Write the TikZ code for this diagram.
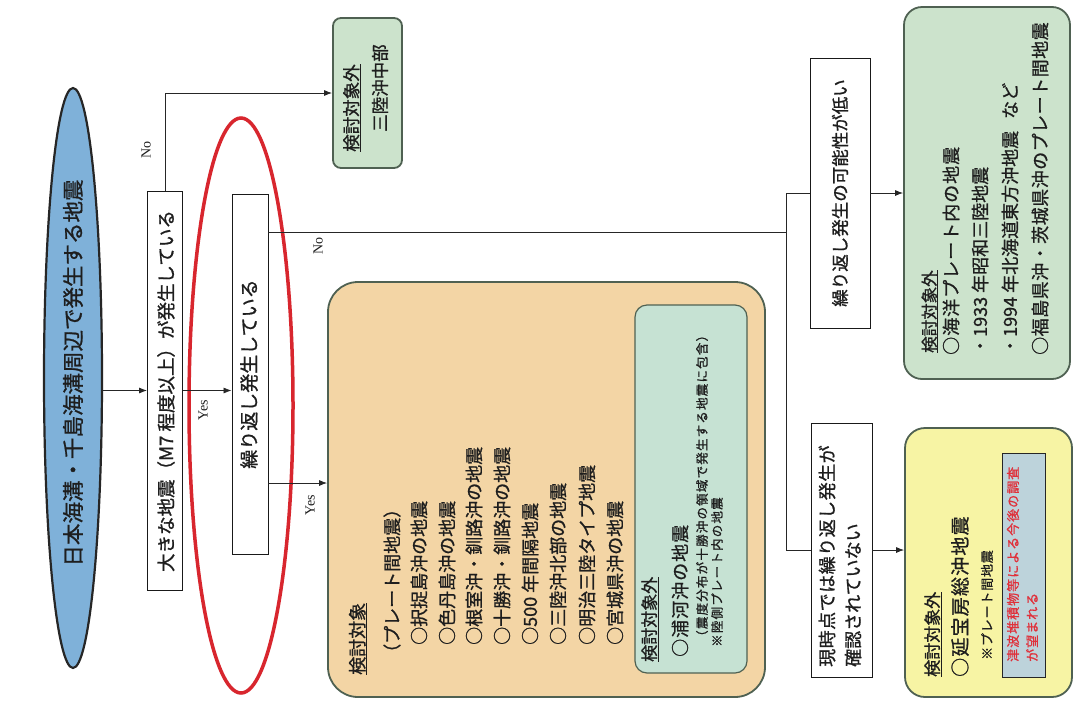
\documentclass[tikz,border=0pt]{standalone}
\usepackage{fontspec}
\setmainfont{Liberation Serif}
\newfontfamily\jp[FakeBold=1]{Noto Sans CJK JP}
\usetikzlibrary{arrows.meta,calc,shapes.geometric}
\definecolor{blueE}{HTML}{7FB1D9}
\definecolor{orangeF}{HTML}{F3D5A5}
\definecolor{greenF}{HTML}{CCE3CC}
\definecolor{mintF}{HTML}{C6E2D3}
\definecolor{yellowF}{HTML}{F7F4A4}
\definecolor{grayblue}{HTML}{BDD3DB}
\definecolor{edgeC}{HTML}{4F6152}
\definecolor{redE}{HTML}{D8262E}
\definecolor{txt}{HTML}{1E1E1E}
\definecolor{redtxt}{HTML}{E0303A}
\newcommand\jf[1]{\jp\fontsize{#1}{#1}\selectfont}
\makeatletter
\newcommand\spc[2]{\@tfor\sp@ch:=#2\do{\sp@ch\kern#1pt\relax}\unkern}
\makeatother
\newcommand\ulx[1]{\setbox0\hbox{#1}\rlap{\rule[-3pt]{\wd0}{1.1pt}}\box0}
\tikzset{
  jt/.style={rotate=90, anchor=west, inner sep=0pt, text=txt},
  jc/.style={rotate=90, anchor=center, inner sep=0pt, text=txt},
  lab/.style={rotate=90, inner sep=0pt, font=\fontsize{14}{14}\selectfont, text=txt},
  plainbox/.style={draw=black!90, line width=0.9pt, fill=white, inner sep=0pt},
  roundbox/.style={draw=edgeC, line width=1.8pt, inner sep=0pt},
  arr/.style={-{Latex[length=8pt,width=6pt]}, line width=0.8pt, draw=black!85},
  conn/.style={line width=0.8pt, draw=black!85},
}
\begin{document}
\begin{tikzpicture}[x=1pt,y=-1pt]
\useasboundingbox (0,0) rectangle (1078,702);
\fill[white] (0,0) rectangle (1078,702);

% shapes
\node[ellipse, draw=black!85, line width=2.2pt, fill=blueE, minimum width=58, minimum height=580, inner sep=0pt] (e0) at (73,378) {};
\node[plainbox, minimum width=35, minimum height=399] (b1) at (165,390.5) {};
\node[roundbox, fill=greenF, rounded corners=8pt, minimum width=69, minimum height=150] (g1) at (367.5,93) {};
\node[plainbox, minimum width=36, minimum height=360] (b2) at (250,374) {};
\node[ellipse, draw=redE, line width=3.5pt, minimum width=104, minimum height=575, inner sep=0pt] (r0) at (241,405.5) {};
\node[roundbox, fill=orangeF, rounded corners=30pt, minimum width=437, minimum height=415] (ob) at (546.5,489.5) {};
\node[roundbox, line width=1.2pt, fill=mintF, rounded corners=12pt, minimum width=112, minimum height=368] (ig) at (691,489) {};
\node[plainbox, minimum width=60, minimum height=270] (b3) at (840,193) {};
\node[plainbox, minimum width=61, minimum height=254] (b4) at (841.5,550) {};
\node[roundbox, fill=greenF, rounded corners=18pt, minimum width=166, minimum height=372] (g3) at (987,193) {};
\node[roundbox, fill=yellowF, rounded corners=20pt, minimum width=167, minimum height=269] (y4) at (988.5,562.5) {};
\node[draw=black!85, line width=1pt, fill=grayblue, inner sep=0pt, minimum width=43, minimum height=224] (yb) at (1023.5,565) {};

% connectors
\draw[arr] (e0.east |- b1.west) -- (b1.west);
\draw[arr] (b1.east) -- (b1.east -| b2.west);
\draw[arr] (b1.north) |- (g1.west);
\coordinate (n2) at ($(b2.north east)+(0,39)$);
\coordinate (j) at (786,193);
\coordinate (jb) at (786,550);
\draw[conn] (n2) -- (n2 -| j);
\draw[conn] (j) -- (jb);
\draw[conn] (j) -- (b3.west);
\draw[arr] (b3.east) -- (g3.west);
\draw[conn] (jb) -- (b4.west);
\draw[arr] (b4.east) -- (b4.east -| y4.west);
\coordinate (y2) at ($(b2.east)+(0,109)$);
\draw[arr] (y2) -- (y2 -| ob.west);

% labels
\node[lab] (lno1) at (146,150) {No};
\node[lab] (lyes1) at (203,410) {Yes};
\node[lab] (lno2) at (318,246) {No};
\node[lab] (lyes2) at (310,505) {Yes};

% texts
\node[jc, font=\jf{21.5}] (t0) at (73,373) {日本海溝・千島海溝周辺で発生する地震};
\node[jc, font=\jf{18.5}] (t1) at (166,391) {大きな地震（M7 程度以上）が発生している};
\node[jc, font=\jf{19}] (t2) at (249,374) {繰り返し発生している};

\node[jt, font=\jf{17.5}] (tg1a) at (352,152) {\ulx{検討対象外}};
\node[jt, font=\jf{17.5}] (tg1b) at (380,132) {三陸沖中部};

\node[jt, font=\jf{18}] (o0) at (358,675) {\ulx{検討対象}};
\node[jt, font=\jf{18}] (o1) at (392,662) {（プレート間地震）};
\node[jt, font=\jf{18}] (o2) at (419,645) {○択捉島沖の地震};
\node[jt, font=\jf{18}] (o3) at (447,645) {○色丹島沖の地震};
\node[jt, font=\jf{18}] (o4) at (474,645) {○根室沖・釧路沖の地震};
\node[jt, font=\jf{18}] (o5) at (502,645) {○十勝沖・釧路沖の地震};
\node[jt, font=\jf{18}] (o6) at (530,645) {○500 年間隔地震};
\node[jt, font=\jf{18}] (o7) at (558,645) {○三陸沖北部の地震};
\node[jt, font=\jf{18}] (o8) at (587,645) {○明治三陸タイプ地震};
\node[jt, font=\jf{18}] (o9) at (615,645) {○宮城県沖の地震};

\node[jt, font=\jf{17}] (i0) at (650,662) {\ulx{検討対象外}};
\node[jt, font=\jf{18}] (i1) at (680,657) {\spc{1}{○浦河沖の地震}};
\node[jt, font=\jf{12.5}] (i2) at (702,643) {\spc{1.2}{（震度分布が十勝沖の領域で発生する地震に包含）}};
\node[jt, font=\jf{12.5}] (i3) at (717,647) {\spc{1.2}{※陸側プレート内の地震}};

\node[jc, font=\jf{17.5}] (t3) at (840,193) {繰り返し発生の可能性が低い};
\node[jt, font=\jf{18}] (t4a) at (827,667) {\spc{0.5}{現時点では繰り返し発生が}};
\node[jt, font=\jf{18}] (t4b) at (853,667) {確認されていない};

\node[jt, font=\jf{16.5}] (r1) at (930,353) {\ulx{検討対象外}};
\node[jt, font=\jf{18}] (r2) at (951,355) {\spc{1}{○海洋プレート内の地震}};
\node[jt, font=\jf{18}] (r3) at (980,355) {・1933 年昭和三陸地震};
\node[jt, font=\jf{18}] (r4) at (1010,355) {・1994 年北海道東方沖地震\hspace{12pt}など};
\node[jt, font=\jf{18}] (r5) at (1040,355) {\spc{0.5}{○福島県沖・茨城県沖のプレート間地震}};

\node[jt, font=\jf{17}] (y0) at (933,677) {\ulx{検討対象外}};
\node[jt, font=\jf{19}] (y1) at (960,677) {\spc{1.2}{○延宝房総沖地震}};
\node[jt, font=\jf{13}] (y2t) at (987,660) {\spc{0.8}{※プレート間地震}};
\node[jt, font=\jf{13}, text=redtxt] (y3) at (1013,662) {\spc{1}{津波堆積物等による今後の調査}};
\node[jt, font=\jf{13}, text=redtxt] (y4t) at (1032,662) {\spc{1}{が望まれる}};
\end{tikzpicture}
\end{document}
